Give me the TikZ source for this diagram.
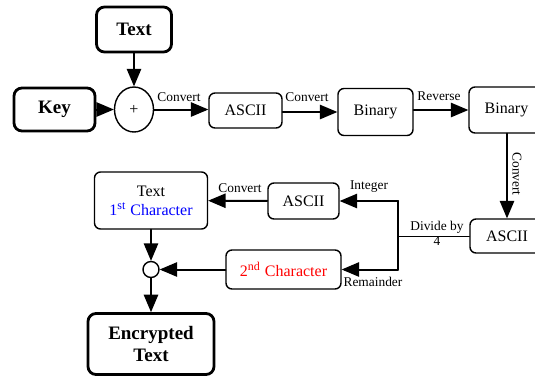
\documentclass[tikz,border=0pt]{standalone}
\usepackage{fontspec}
\setmainfont{Liberation Serif}
\usetikzlibrary{arrows,shapes.geometric}

\begin{document}
\begin{tikzpicture}[line cap=round,line join=round,>=triangle 45,x=0.5pt,y=-0.5pt,
  bigbox/.style={draw,rounded corners=4pt,line width=1.4pt,inner sep=0pt,align=center,font=\fontsize{9.5}{11}\selectfont\bfseries},
  box/.style={draw,rounded corners=3pt,line width=0.7pt,inner sep=0pt,align=center,font=\fontsize{8}{9.5}\selectfont},
  lbl/.style={inner sep=0pt,align=center,font=\fontsize{6.7}{7.5}\selectfont},
  arr/.style={->,line width=1pt}]
\useasboundingbox (0,0) rectangle (535,376);
% top row
\node[bigbox,minimum width=37.5pt,minimum height=22.5pt] (text) at (134,29.5) {Text};
\node[bigbox,minimum width=40.5pt,minimum height=21.5pt] (key) at (54.5,109.5) {Key};
\node[draw,ellipse,line width=0.7pt,minimum width=19.5pt,minimum height=22.5pt,inner sep=0pt,font=\fontsize{8}{9}\selectfont] (plus) at (134,109.5) {+};
\node[box,minimum width=36.5pt,minimum height=17.5pt] (asciiA) at (245.5,110.5) {ASCII};
\node[box,minimum width=37.5pt,minimum height=23.5pt] (binA) at (375.5,112) {Binary};
\node[box,minimum width=37.5pt,minimum height=23pt] (binB) at (506.5,110) {Binary};
% right column and bottom
\node[box,minimum width=37pt,minimum height=17pt] (asciiB) at (507,236) {ASCII};
\node[box,minimum width=35.5pt,minimum height=18pt] (asciiC) at (303.5,201) {ASCII};
\node[box,minimum width=56.5pt,minimum height=28.5pt] (first) at (151,200.5) {Text\\\textcolor{blue}{1\textsuperscript{st} Character}};
\node[box,minimum width=57.5pt,minimum height=19.5pt,text=red] (second) at (283.5,269.5) {2\textsuperscript{nd} Character};
\node[draw,circle,line width=0.7pt,minimum size=8pt,inner sep=0pt] (join) at (151,269.5) {};
\node[bigbox,minimum width=63pt,minimum height=30.5pt] (enc) at (151,344) {Encrypted\\Text};
\coordinate (split) at (398,236);
% connectors
\draw[arr] (text) -- (plus);
\draw[arr] (key) -- (plus);
\draw[arr] (plus) -- (plus -| asciiA.west);
\draw[arr] (asciiA.east |- binA) -- (binA.west);
\draw[arr] (binA.east |- binB) -- (binB.west);
\draw[arr] (binB.south -| asciiB) -- (asciiB.north);
\draw[line width=0.5pt] (asciiB.west) -- (split);
\draw[line width=1pt] (asciiC.east -| split) -- (second.east -| split);
\draw[arr] (asciiC.east -| split) -- (asciiC.east);
\draw[arr] (second.east -| split) -- (second.east);
\draw[arr] (asciiC) -- (first);
\draw[arr] (first) -- (join);
\draw[arr] (second) -- (join);
\draw[arr] (join) -- (enc);
% labels
\node[lbl] (cvA) at (179,97) {Convert};
\node[lbl] (cvB) at (307,97) {Convert};
\node[lbl] (rev) at (439,96) {Reverse};
\node[lbl,rotate=-90] (cvC) at (517,174) {Convert};
\node[lbl] (intg) at (369,187) {Integer};
\node[lbl] (divd) at (437,233) {Divide by\\4};
\node[lbl] (rem) at (373,282) {Remainder};
\node[lbl] (cvD) at (240,188) {Convert};
\end{tikzpicture}
\end{document}
